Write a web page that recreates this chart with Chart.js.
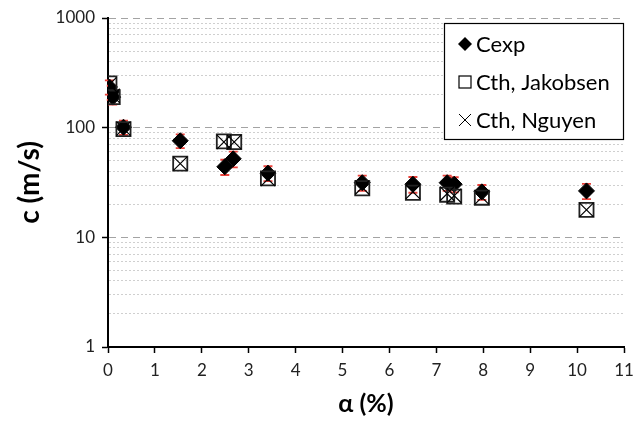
<!DOCTYPE html>
<html lang="en">
<head>
  <meta charset="UTF-8">
  <title>c vs alpha</title>
  <script src="https://cdn.jsdelivr.net/npm/chart.js"></script>
  <style>
    html, body { margin: 0; padding: 0; background: #fff; }
    #wrap { width: 644px; height: 421px; }
  </style>
</head>
<body>
  <div id="wrap"><canvas id="grafico" width="644" height="421"></canvas></div>

  <script>
    // measured wave speed (with error bars)
    const alphaExp = [0.03, 0.07, 0.10, 0.33, 1.54, 2.49, 2.67, 3.41, 5.42, 6.50, 7.23, 7.38, 7.97, 10.20];
    const cExp     = [235, 210, 190, 101, 76, 44, 52, 38.5, 31.5, 30.5, 31.5, 30.5, 26, 26.5];
    const cExpErr  = [35, 31, 28, 15, 11, 7, 8.5, 6, 5, 5, 5, 4.8, 4, 4.2];

    // theoretical values
    const alphaTh   = [0.03, 0.10, 0.33, 1.54, 2.47, 2.69, 3.41, 5.42, 6.50, 7.23, 7.38, 7.97, 10.20];
    const cJakobsen = [253, 190, 97, 47, 75, 74, 34.5, 28, 25.5, 24.5, 23.5, 23, 17.8];
    const cNguyen   = [248, 195, 98, 47, 74, 74, 34, 28.5, 26, 25, 24, 23.2, 17.8];

    const yMajor = [1, 10, 100, 1000];
    const legendLabels = ['Cexp', 'Cth, Jakobsen', 'Cth, Nguyen'];

    const FONT = 'Lato, "Open Sans", sans-serif';
    const isMajor = v => yMajor.includes(v);

    const toPoints = (xs, ys) => xs.map((x, i) => ({ x, y: ys[i] }));

    // red error bars on the measured series
    const errorBars = {
      id: 'errorBars',
      beforeDatasetsDraw(chart) {
        const { ctx, scales: { x, y } } = chart;
        ctx.save();
        ctx.strokeStyle = '#e8413a';
        ctx.lineWidth = 1.8;
        alphaExp.forEach((a, i) => {
          const px = x.getPixelForValue(a);
          const top = y.getPixelForValue(cExp[i] + cExpErr[i]);
          const bot = y.getPixelForValue(cExp[i] - cExpErr[i]);
          ctx.beginPath();
          ctx.moveTo(px, top); ctx.lineTo(px, bot);
          ctx.moveTo(px - 4.5, top); ctx.lineTo(px + 4.5, top);
          ctx.moveTo(px - 4.5, bot); ctx.lineTo(px + 4.5, bot);
          ctx.stroke();
        });
        ctx.restore();
      }
    };

    // boxed legend in the top-right corner of the plot
    const boxLegend = {
      id: 'boxLegend',
      afterDraw(chart) {
        const { ctx, chartArea } = chart;
        const w = 180, h = 117;
        const bx = chartArea.right - w, by = chartArea.top + 5;
        ctx.save();
        ctx.fillStyle = '#fff';
        ctx.fillRect(bx, by, w, h);
        ctx.strokeStyle = '#000';
        ctx.lineWidth = 1.2;
        ctx.strokeRect(bx + 0.5, by + 0.5, w - 1, h - 1);

        const rows = [by + 21, by + 59, by + 97];
        const sx = bx + 21;
        ctx.fillStyle = '#000';
        ctx.font = '22px ' + FONT;
        ctx.textBaseline = 'middle';
        legendLabels.forEach((t, i) => ctx.fillText(t, bx + 32, rows[i] + 1));

        // diamond
        ctx.beginPath();
        ctx.moveTo(sx, rows[0] - 7); ctx.lineTo(sx + 7, rows[0]);
        ctx.lineTo(sx, rows[0] + 7); ctx.lineTo(sx - 7, rows[0]);
        ctx.closePath(); ctx.fill();
        // square
        ctx.lineWidth = 1.2;
        ctx.strokeRect(sx - 6, rows[1] - 6, 12, 12);
        // cross
        ctx.lineWidth = 1;
        ctx.beginPath();
        ctx.moveTo(sx - 6, rows[2] - 6); ctx.lineTo(sx + 6, rows[2] + 6);
        ctx.moveTo(sx + 6, rows[2] - 6); ctx.lineTo(sx - 6, rows[2] + 6);
        ctx.stroke();
        ctx.restore();
      }
    };

    const chart = new Chart(document.getElementById('grafico'), {
      type: 'scatter',
      data: {
        datasets: [
          {
            label: legendLabels[0],
            data: toPoints(alphaExp, cExp),
            pointStyle: 'rectRot',
            pointRadius: 8,
            backgroundColor: '#000',
            borderColor: '#000',
            borderWidth: 1,
            order: 3
          },
          {
            label: legendLabels[1],
            data: toPoints(alphaTh, cJakobsen),
            pointStyle: 'rect',
            pointRadius: 10,
            backgroundColor: 'rgba(0,0,0,0)',
            borderColor: '#222',
            borderWidth: 1.8,
            order: 2
          },
          {
            label: legendLabels[2],
            data: toPoints(alphaTh, cNguyen),
            pointStyle: 'crossRot',
            pointRadius: 10,
            borderColor: '#000',
            borderWidth: 1.2,
            order: 1
          }
        ]
      },
      options: {
        responsive: false,
        animation: false,
        events: [],
        devicePixelRatio: 1,
        layout: { padding: { top: 18, right: 20, left: 0, bottom: 0 } },
        plugins: { legend: { display: false }, tooltip: { enabled: false } },
        scales: {
          x: {
            type: 'linear',
            min: 0, max: 11,
            afterFit: s => { s.height = 74; },
            ticks: { stepSize: 1, color: '#222', padding: 7, font: { family: FONT, size: 17 } },
            grid: { drawOnChartArea: false, tickLength: 6, tickColor: '#000', tickWidth: 1.5 },
            border: { color: '#000', width: 2 },
            title: { display: true, text: 'α (%)', color: '#000', padding: { top: 0, bottom: 2 },
                     font: { family: FONT, size: 25, weight: 'bold' } }
          },
          y: {
            type: 'logarithmic',
            min: 1, max: 1000,
            afterFit: s => { s.width = 108; },
            afterBuildTicks: s => {
              const t = [];
              for (let d = 1; d < 1000; d *= 10) {
                for (let k = 1; k < 10; k++) t.push({ value: k * d });
              }
              t.push({ value: 1000 });
              s.ticks = t;
            },
            ticks: {
              autoSkip: false,
              color: '#222',
              padding: 7,
              font: { family: FONT, size: 17 },
              callback: v => isMajor(v) ? String(v) : ''
            },
            grid: {
              color: c => isMajor(c.tick.value) ? '#a3a3a3' : '#cfcfcf',
              lineWidth: 1,
              tickLength: 6,
              tickWidth: 1.5,
              tickColor: c => isMajor(c.tick.value) ? '#000' : 'rgba(0,0,0,0)'
            },
            border: {
              color: '#000', width: 2,
              dash: c => isMajor(c.tick.value) ? [7, 5] : [2, 2]
            },
            title: { display: true, text: 'c (m/s)', color: '#000', padding: { top: 13, bottom: 0 },
                     font: { family: FONT, size: 28, weight: 'bold' } }
          }
        }
      },
      plugins: [errorBars, boxLegend]
    });
  </script>
</body>
</html>
